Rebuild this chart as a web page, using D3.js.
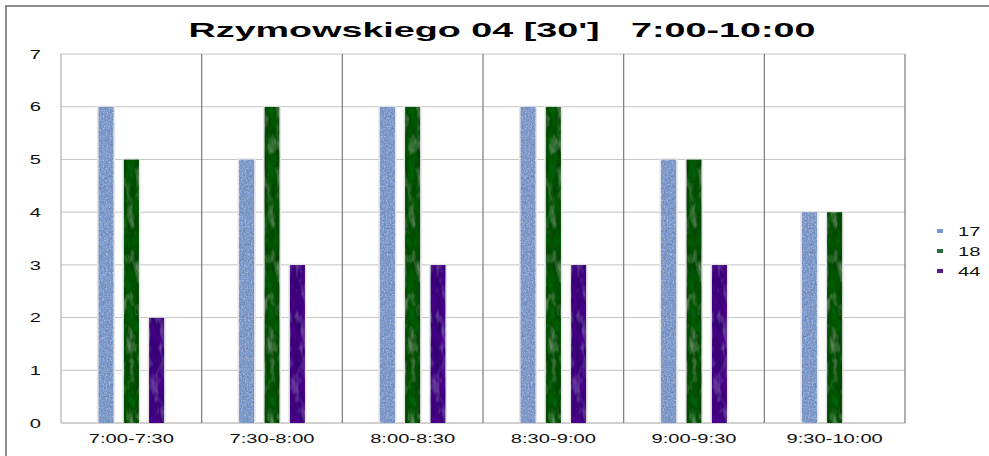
<!DOCTYPE html>
<html>
<head>
<meta charset="utf-8">
<script src="https://cdn.jsdelivr.net/npm/d3@7/dist/d3.min.js"></script>
<style>
  body { margin: 0; background: #fff; }
  text { font-family: "Liberation Sans", Arial, sans-serif; }
</style>
</head>
<body>
<script>
var width = 989;
var height = 456;

var title = "Rzymowskiego 04 [30']   7:00-10:00";
var categories = ["7:00-7:30", "7:30-8:00", "8:00-8:30", "8:30-9:00", "9:00-9:30", "9:30-10:00"];
var seriesNames = ["17", "18", "44"];
var values17 = [6, 5, 6, 6, 5, 4];
var values18 = [5, 6, 6, 6, 5, 4];
var values44 = [2, 3, 3, 3, 3, null];
var yTicks = [0, 1, 2, 3, 4, 5, 6, 7];

var colors = { "17": "#92b2ec", "18": "#2f7042", "44": "#64209c" };
var legendColors = { "17": "#7399d8", "18": "#2a6a3a", "44": "#5a1a90" };
var textures = { "17": "url(#fine)", "18": "url(#cloud)", "44": "url(#cloud)" };

// the reference image is stretched sideways, so text is too
var stretch = 1.55;

var data = categories.map(function (c, i) {
  return { cat: c, vals: [
    { s: "17", v: values17[i] },
    { s: "18", v: values18[i] },
    { s: "44", v: values44[i] }
  ]};
});

var margin = { left: 61, right: 84, top: 54, bottom: 33 };

var svg = d3.select("body").append("svg")
  .attr("width", width)
  .attr("height", height);

var defs = svg.append("defs");
function texture(id, freq, k1, k2, k4) {
  var f = defs.append("filter").attr("id", id)
    .attr("x", 0).attr("y", 0).attr("width", 1).attr("height", 1);
  f.append("feTurbulence").attr("type", "fractalNoise")
    .attr("baseFrequency", freq).attr("numOctaves", 3).attr("seed", 5).attr("result", "n");
  f.append("feColorMatrix").attr("in", "n").attr("type", "saturate").attr("values", 0).attr("result", "g");
  f.append("feComposite").attr("in", "SourceGraphic").attr("in2", "g")
    .attr("operator", "arithmetic").attr("k1", k1).attr("k2", k2).attr("k3", 0).attr("k4", k4)
    .attr("result", "c");
  f.append("feComposite").attr("in", "c").attr("in2", "SourceGraphic").attr("operator", "in");
}
texture("fine", "0.7 0.5", 1.5, 0.28, 0);
texture("cloud", "0.12 0.05", 1.2, 0.45, -0.05);

// outer frame
svg.append("rect")
  .attr("x", 6).attr("y", 6).attr("width", width + 10).attr("height", height + 10)
  .attr("fill", "none").attr("stroke", "#8c8c8c").attr("stroke-width", 2);

var tg = svg.append("g").attr("transform", "translate(502,37)");
var tt = tg.append("text")
  .attr("text-anchor", "middle")
  .attr("font-size", 21).attr("font-weight", "bold")
  .style("white-space", "pre")
  .text(title);
var tlen = tt.node().getComputedTextLength();
tt.attr("transform", "scale(" + (627 / tlen) + ",1)");

var plotW = width - margin.left - margin.right;
var plotH = height - margin.top - margin.bottom;
var g = svg.append("g").attr("transform", "translate(" + margin.left + "," + margin.top + ")");

var y = d3.scaleLinear().domain([0, 7]).range([plotH, 0]);
var x0 = d3.scaleBand().domain(categories).range([0, plotW]);
var x1 = d3.scaleBand().domain(seriesNames).range([0, 76]).paddingInner(0.4).paddingOuter(0.2);

// horizontal gridlines
g.selectAll(".grid").data(yTicks).enter().append("line")
  .attr("x1", 0).attr("x2", plotW)
  .attr("y1", function (d) { return y(d); })
  .attr("y2", function (d) { return y(d); })
  .attr("stroke", function (d) { return d === 0 ? "#a0a0a0" : "#c4c4c4"; })
  .attr("stroke-width", 1);

// category separators
g.selectAll(".sep").data(categories.concat(["end"])).enter().append("line")
  .attr("x1", function (d, i) { return i * x0.step(); })
  .attr("x2", function (d, i) { return i * x0.step(); })
  .attr("y1", 0).attr("y2", plotH)
  .attr("stroke", function (d, i) { return i === 0 ? "#b0b0b0" : "#7a7a7a"; })
  .attr("stroke-width", 1.2);

// y axis labels
var yAxis = d3.axisLeft(y).tickValues(yTicks).tickFormat(d3.format("d")).tickSize(0).tickPadding(13);
g.append("g").call(yAxis)
  .call(function (a) { a.select(".domain").remove(); })
  .selectAll("text")
  .attr("font-size", 13).attr("fill", "#111")
  .attr("transform", "scale(" + stretch + ",1)")
  .style("font-family", "\"Liberation Sans\", Arial, sans-serif");

// x axis labels
var xAxis = d3.axisBottom(x0).tickSize(0).tickPadding(11);
g.append("g").attr("transform", "translate(0," + plotH + ")").call(xAxis)
  .call(function (a) { a.select(".domain").remove(); })
  .selectAll("text")
  .attr("font-size", 13).attr("fill", "#111")
  .attr("transform", "scale(" + stretch + ",1)")
  .style("font-family", "\"Liberation Sans\", Arial, sans-serif");

// bars
var groups = g.selectAll(".grp").data(data).enter().append("g")
  .attr("transform", function (d) { return "translate(" + (x0(d.cat) + x0.bandwidth() / 2 - 38) + ",0)"; });

var bars = groups.selectAll(".bar").data(function (d) {
  return d.vals.filter(function (b) { return b.v != null; });
}).enter();

bars.append("rect")
  .attr("x", function (d) { return x1(d.s) - 1.5; })
  .attr("y", function (d) { return y(d.v) - 1; })
  .attr("width", x1.bandwidth() + 3)
  .attr("height", function (d) { return plotH - y(d.v) + 1; })
  .attr("fill", "#e4e4e4");

bars.append("rect")
  .attr("x", function (d) { return x1(d.s); })
  .attr("y", function (d) { return y(d.v); })
  .attr("width", x1.bandwidth())
  .attr("height", function (d) { return plotH - y(d.v); })
  .attr("fill", function (d) { return colors[d.s]; })
  .attr("filter", function (d) { return textures[d.s]; });

// legend
var leg = svg.append("g").attr("transform", "translate(937,231)");
var li = leg.selectAll(".li").data(seriesNames).enter().append("g")
  .attr("transform", function (d, i) { return "translate(0," + (i * 20) + ")"; });
li.append("rect").attr("x", 0).attr("y", -2).attr("width", 6).attr("height", 4)
  .attr("fill", function (d) { return legendColors[d]; });
li.append("text").attr("x", 21 / stretch).attr("y", 4.5)
  .attr("font-size", 13).attr("fill", "#111")
  .attr("transform", "scale(" + stretch + ",1)")
  .text(function (d) { return d; });
</script>
</body>
</html>
